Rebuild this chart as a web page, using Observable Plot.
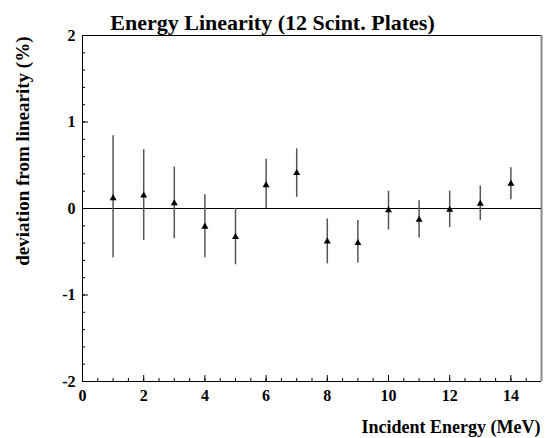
<!DOCTYPE html>
<html>
<head>
<meta charset="utf-8">
<script src="https://cdn.jsdelivr.net/npm/d3@7"></script>
<script src="https://cdn.jsdelivr.net/npm/@observablehq/plot@0.6"></script>
<style>
  html, body { margin: 0; padding: 0; background: #fff; }
</style>
</head>
<body>
<div id="chart"></div>
<script>
const energy = [1, 2, 3, 4, 5, 6, 7, 8, 9, 10, 11, 12, 13, 14];
const deviation = [0.12, 0.15, 0.06, -0.21, -0.33, 0.27, 0.41, -0.38, -0.40, -0.02, -0.13, -0.015, 0.055, 0.285];
const errLow = [-0.57, -0.37, -0.35, -0.57, -0.65, 0.0, 0.13, -0.64, -0.63, -0.25, -0.34, -0.22, -0.14, 0.10];
const errHigh = [0.84, 0.68, 0.48, 0.16, 0.0, 0.57, 0.69, -0.12, -0.14, 0.20, 0.09, 0.20, 0.26, 0.47];
const xMajorTicks = [0, 2, 4, 6, 8, 10, 12, 14];
const xMinorTicks = d3.range(0, 15.01, 0.5);
const yMajorTicks = [-2, -1, 0, 1, 2];
const yMinorTicks = d3.range(-2, 2.001, 0.2);
const titleText = "Energy Linearity (12 Scint. Plates)";
const xLabel = "Incident Energy (MeV)";
const yLabel = "deviation from linearity (%)";

const data = energy.map((e, i) => ({x: e, y: deviation[i], lo: errLow[i], hi: errHigh[i]}));
const font = "'Liberation Serif', 'Times New Roman', serif";

const chart = Plot.plot({
  width: 545,
  height: 438,
  marginLeft: 82,
  marginRight: 4,
  marginTop: 35,
  marginBottom: 57,
  style: {fontFamily: font, fontWeight: "bold", background: "#fff", color: "#000"},
  x: {domain: [0, 15], label: null},
  y: {domain: [-2, 2], label: null},
  marks: [
    // minor ticks
    Plot.axisX({ticks: xMinorTicks, tickSize: -3, tickFormat: () => "", stroke: "#000"}),
    Plot.axisY({ticks: yMinorTicks, tickSize: -3, tickFormat: () => "", stroke: "#000"}),
    // major ticks
    Plot.axisX({ticks: xMajorTicks, tickSize: -6, tickFormat: () => "", stroke: "#000"}),
    Plot.axisY({ticks: yMajorTicks, tickSize: -6, tickFormat: () => "", stroke: "#000"}),
    // labels
    Plot.axisX({ticks: xMajorTicks, tickSize: 0, tickPadding: 8, fontSize: 16, fontWeight: "bold", tickFormat: d => String(d)}),
    Plot.axisY({ticks: yMajorTicks, tickSize: 0, tickPadding: 7, fontSize: 16, fontWeight: "bold", tickFormat: d => String(d)}),
    // frame
    Plot.ruleY([2], {stroke: "#000", strokeWidth: 1}),
    Plot.ruleY([-2], {stroke: "#000", strokeWidth: 1}),
    Plot.ruleX([0], {stroke: "#000", strokeWidth: 1}),
    Plot.ruleX([15], {stroke: "#888", strokeWidth: 2}),
    // zero line
    Plot.ruleY([0], {stroke: "#000", strokeWidth: 1.2}),
    // error bars
    Plot.ruleX(data, {x: "x", y1: "lo", y2: "hi", stroke: "#555", strokeWidth: 1.5}),
    // markers
    Plot.dot(data, {x: "x", y: "y", symbol: "triangle", fill: "#000", stroke: "none", r: 2.6}),
    // title and axis labels
    Plot.text([titleText], {frameAnchor: "top-left", dx: 190, dy: -13, textAnchor: "middle", lineAnchor: "middle", fontSize: 22, fontWeight: "bold", fill: "#000"}),
    Plot.text([xLabel], {frameAnchor: "bottom-right", dx: -1, dy: 51, textAnchor: "end", lineAnchor: "bottom", fontSize: 18, fontWeight: "bold", fill: "#000"}),
    Plot.text([yLabel], {frameAnchor: "top-left", dx: -67, dy: 1, rotate: -90, textAnchor: "end", lineAnchor: "top", fontSize: 19, fontWeight: "bold", fill: "#000"})
  ]
});
document.getElementById("chart").appendChild(chart);
</script>
</body>
</html>
